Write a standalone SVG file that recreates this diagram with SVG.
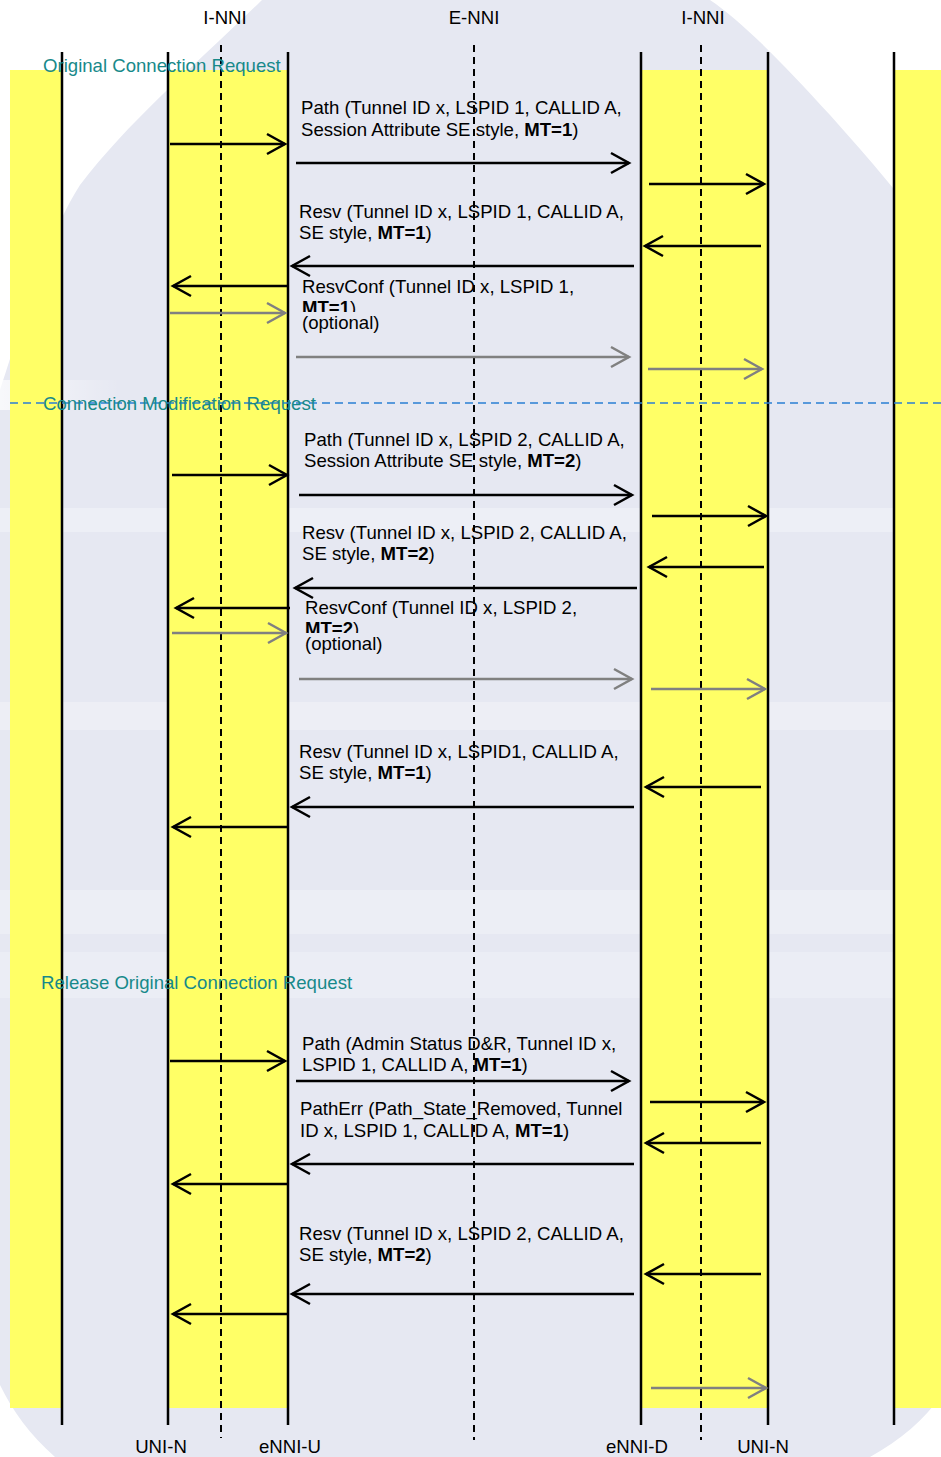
<svg xmlns="http://www.w3.org/2000/svg" width="941" height="1457" viewBox="0 0 941 1457">
<style>
text{font-family:"Liberation Sans",Arial,sans-serif;font-size:18.6px;fill:#000}
.b{font-weight:bold}
.sec{fill:#17898a}
.life{stroke:#000;stroke-width:2.5;fill:none}
.dash{stroke:#000;stroke-width:2;stroke-dasharray:7,5;fill:none}
.msg{stroke:#000;stroke-width:2.5;fill:none;marker-end:url(#ah)}
.opt{stroke:#808080;stroke-width:2.5;fill:none;marker-end:url(#ahg)}
</style>
<defs>
<marker id="ah" markerUnits="userSpaceOnUse" markerWidth="24" markerHeight="26" refX="20" refY="12" orient="auto">
<path d="M2,2 L20,12 L2,22" fill="none" stroke="#000" stroke-width="2.5"/>
</marker>
<marker id="ahg" markerUnits="userSpaceOnUse" markerWidth="24" markerHeight="26" refX="20" refY="12" orient="auto">
<path d="M2,2 L20,12 L2,22" fill="none" stroke="#808080" stroke-width="2.5"/>
</marker>
<clipPath id="c1"><rect x="290" y="290" width="300" height="22"/></clipPath>
<clipPath id="c2"><rect x="290" y="612" width="300" height="21"/></clipPath>
<linearGradient id="fadeL" x1="0" y1="0" x2="1" y2="0">
<stop offset="0" stop-color="#ffffff" stop-opacity="0.7"/>
<stop offset="1" stop-color="#ffffff" stop-opacity="0"/>
</linearGradient>
</defs>

<g id="background">
<rect x="0" y="0" width="941" height="1457" fill="#ffffff"/>
<path d="M262,0 L710,0 C740,20 780,60 830,115 C870,160 905,200 941,250 L941,1395 C925,1420 900,1440 870,1457 L55,1457 C30,1435 12,1410 0,1385 L0,390 C20,330 45,240 80,185 C130,120 190,70 262,0 Z" fill="#e6e8f2"/>
<rect x="0" y="380" width="120" height="30" fill="url(#fadeL)"/>
<rect x="0" y="508" width="941" height="24" fill="#ffffff" opacity="0.3"/>
<rect x="0" y="702" width="941" height="28" fill="#ffffff" opacity="0.28"/>
<rect x="0" y="890" width="941" height="44" fill="#ffffff" opacity="0.25"/>
<rect x="0" y="952" width="941" height="46" fill="#ffffff" opacity="0.22"/>
</g>

<g id="domains">
<rect x="10" y="70" width="52" height="1338" fill="#ffff66"/>
<rect x="168" y="70" width="120" height="1338" fill="#ffff66"/>
<rect x="641" y="70" width="127" height="1338" fill="#ffff66"/>
<rect x="894" y="70" width="47" height="1338" fill="#ffff66"/>
</g>

<g id="lifelines">
<line class="life" x1="62" y1="52" x2="62" y2="1425"/>
<line class="life" x1="168" y1="52" x2="168" y2="1425"/>
<line class="life" x1="288" y1="52" x2="288" y2="1425"/>
<line class="life" x1="641" y1="52" x2="641" y2="1425"/>
<line class="life" x1="768" y1="52" x2="768" y2="1425"/>
<line class="life" x1="894" y1="52" x2="894" y2="1425"/>
<line class="dash" x1="221" y1="45" x2="221" y2="1438"/>
<line class="dash" x1="474" y1="45" x2="474" y2="1440"/>
<line class="dash" x1="701" y1="45" x2="701" y2="1440"/>
</g>

<g id="labels">
<text x="225" y="24" text-anchor="middle">I-NNI</text>
<text x="474" y="24" text-anchor="middle">E-NNI</text>
<text x="703" y="24" text-anchor="middle">I-NNI</text>
<text x="161" y="1453" text-anchor="middle">UNI-N</text>
<text x="290" y="1453" text-anchor="middle">eNNI-U</text>
<text x="637" y="1453" text-anchor="middle">eNNI-D</text>
<text x="763" y="1453" text-anchor="middle">UNI-N</text>
</g>

<g id="separator">
<line x1="10" y1="403" x2="941" y2="403" stroke="#2a7fd4" stroke-width="1.5" stroke-dasharray="8,5"/>
</g>

<g id="section-titles">
<text class="sec" x="43" y="72">Original Connection Request</text>
<text class="sec" x="43" y="410">Connection Modification Request</text>
<text class="sec" x="41" y="989">Release Original Connection Request</text>
</g>

<g id="connectors">
<line class="msg" x1="170" y1="144" x2="285" y2="144"/>
<line class="msg" x1="296" y1="163" x2="629" y2="163"/>
<line class="msg" x1="649" y1="184" x2="764" y2="184"/>
<line class="msg" x1="761" y1="246" x2="645" y2="246"/>
<line class="msg" x1="634" y1="266" x2="292" y2="266"/>
<line class="msg" x1="288" y1="286" x2="173" y2="286"/>
<line class="opt" x1="170" y1="313" x2="285" y2="313"/>
<line class="opt" x1="296" y1="357" x2="629" y2="357"/>
<line class="opt" x1="648" y1="369" x2="762" y2="369"/>

<line class="msg" x1="172" y1="475" x2="287" y2="475"/>
<line class="msg" x1="299" y1="495" x2="632" y2="495"/>
<line class="msg" x1="652" y1="516" x2="766" y2="516"/>
<line class="msg" x1="764" y1="567" x2="649" y2="567"/>
<line class="msg" x1="637" y1="588" x2="295" y2="588"/>
<line class="msg" x1="290" y1="608" x2="176" y2="608"/>
<line class="opt" x1="172" y1="633" x2="286" y2="633"/>
<line class="opt" x1="299" y1="679" x2="632" y2="679"/>
<line class="opt" x1="651" y1="689" x2="765" y2="689"/>

<line class="msg" x1="761" y1="787" x2="646" y2="787"/>
<line class="msg" x1="634" y1="807" x2="292" y2="807"/>
<line class="msg" x1="288" y1="827" x2="173" y2="827"/>

<line class="msg" x1="170" y1="1061" x2="285" y2="1061"/>
<line class="msg" x1="296" y1="1081" x2="629" y2="1081"/>
<line class="msg" x1="650" y1="1102" x2="764" y2="1102"/>
<line class="msg" x1="761" y1="1143" x2="646" y2="1143"/>
<line class="msg" x1="634" y1="1164" x2="292" y2="1164"/>
<line class="msg" x1="288" y1="1184" x2="173" y2="1184"/>

<line class="msg" x1="761" y1="1274" x2="646" y2="1274"/>
<line class="msg" x1="634" y1="1294" x2="292" y2="1294"/>
<line class="msg" x1="288" y1="1314" x2="173" y2="1314"/>

<line class="opt" x1="651" y1="1388" x2="766" y2="1388"/>
</g>

<g id="message-labels">
<text x="301" y="114">Path (Tunnel ID x, LSPID 1, CALLID A,</text>
<text x="301" y="136">Session Attribute SE style, <tspan class="b">MT=1</tspan>)</text>
<text x="299" y="218">Resv (Tunnel ID x, LSPID 1, CALLID A,</text>
<text x="299" y="239">SE style, <tspan class="b">MT=1</tspan>)</text>
<text x="302" y="293">ResvConf (Tunnel ID x, LSPID 1,</text>
<text x="302" y="314" clip-path="url(#c1)"><tspan class="b">MT=1</tspan>)</text>
<text x="302" y="329">(optional)</text>

<text x="304" y="446">Path (Tunnel ID x, LSPID 2, CALLID A,</text>
<text x="304" y="467">Session Attribute SE style, <tspan class="b">MT=2</tspan>)</text>
<text x="302" y="539">Resv (Tunnel ID x, LSPID 2, CALLID A,</text>
<text x="302" y="560">SE style, <tspan class="b">MT=2</tspan>)</text>
<text x="305" y="614">ResvConf (Tunnel ID x, LSPID 2,</text>
<text x="305" y="635" clip-path="url(#c2)"><tspan class="b">MT=2</tspan>)</text>
<text x="305" y="650">(optional)</text>

<text x="299" y="758">Resv (Tunnel ID x, LSPID1, CALLID A,</text>
<text x="299" y="779">SE style, <tspan class="b">MT=1</tspan>)</text>

<text x="302" y="1050">Path (Admin Status D&amp;R, Tunnel ID x,</text>
<text x="302" y="1071">LSPID 1, CALLID A, <tspan class="b">MT=1</tspan>)</text>
<text x="300" y="1115">PathErr (Path_State_Removed, Tunnel</text>
<text x="300" y="1137">ID x, LSPID 1, CALLID A, <tspan class="b">MT=1</tspan>)</text>

<text x="299" y="1240">Resv (Tunnel ID x, LSPID 2, CALLID A,</text>
<text x="299" y="1261">SE style, <tspan class="b">MT=2</tspan>)</text>
</g>
</svg>
